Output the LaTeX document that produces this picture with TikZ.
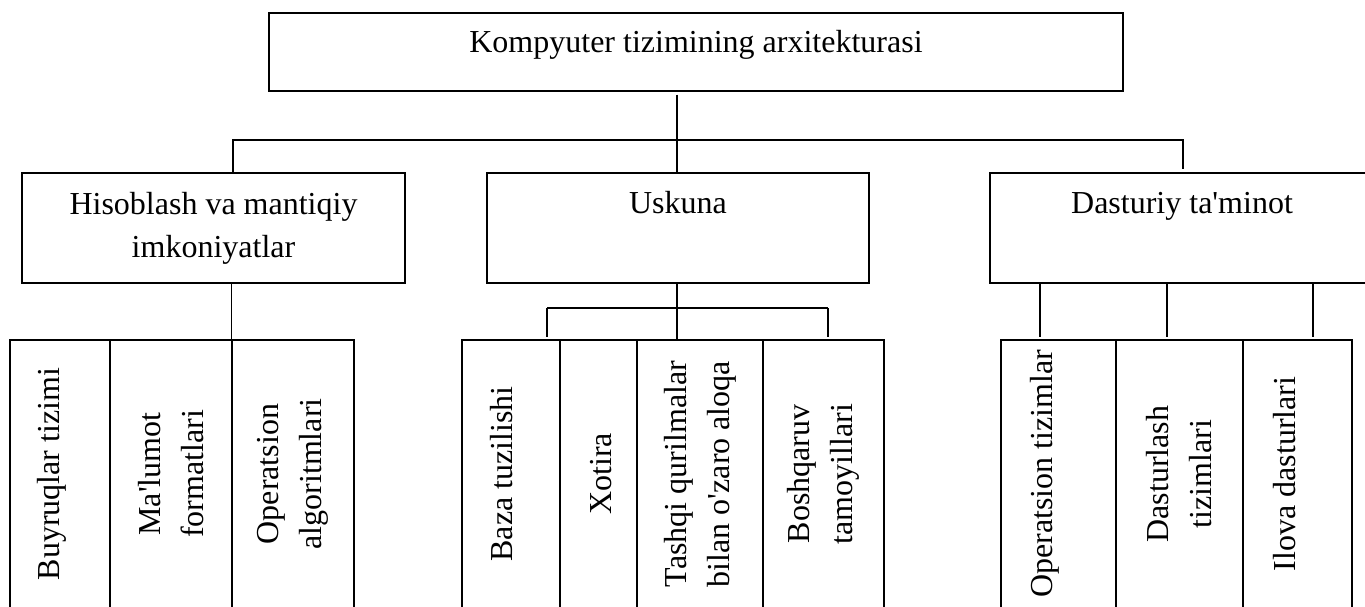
\documentclass[tikz,border=0pt]{standalone}
\usepackage{fontspec}
\setmainfont{Liberation Serif}
\newcommand{\myq}{\textquotesingle}
\begin{document}
\begin{tikzpicture}[x=1pt,y=-1pt,
  line width=1.4pt,
  font=\fontsize{32}{43}\selectfont,
  box/.style={draw, inner sep=0pt, line width=1.4pt},
  sub/.style={draw, inner sep=0pt, rotate=90, minimum width=268pt, line width=1.4pt},
  conn/.style={line width=1.4pt}]
\useasboundingbox (0,0) rectangle (1365,607);

% top level
\node[box, minimum width=854pt, text height=39.3pt, text depth=38.7pt] (top) at (696,52) {Kompyuter tizimining arxitekturasi};

% second level
\node[box, minimum width=383pt, minimum height=110pt, align=center] (calc) at (213.5,228) {Hisoblash va mantiqiy\\imkoniyatlar};
\node[box, minimum width=382pt, text height=40.3pt, text depth=69.7pt] (hw) at (678,228) {Uskuna};
\node[box, minimum width=384pt, text height=40.5pt, text depth=69.5pt] (soft) at (1182,228) {Dasturiy ta\myq minot};

% third level, group 1
\node[sub, minimum height=100pt, text height=49.5pt, text depth=50.5pt] (b1) at (60,474) {Buyruqlar tizimi};
\node[sub, minimum height=122pt, align=center] (b2) at (171,474) {Ma\myq lumot\\formatlari};
\node[sub, minimum height=122pt, align=center] (b3) at (293,474) {Operatsion\\algoritmlari};

% group 2
\node[sub, minimum height=98pt, text height=50.5pt, text depth=47.5pt] (h1) at (511,474) {Baza tuzilishi};
\node[sub, minimum height=77pt, text height=51.7pt, text depth=25.3pt] (h2) at (598.5,474) {Xotira};
\node[sub, minimum height=126pt, align=center] (h3) at (700,474) {Tashqi qurilmalar\\bilan o\myq zaro aloqa};
\node[sub, minimum height=121pt, align=center] (h4) at (823.5,474) {Boshqaruv\\tamoyillari};

% group 3
\node[sub, minimum height=115pt, text height=51pt, text depth=64pt] (s1) at (1058.5,474) {Operatsion tizimlar};
\node[sub, minimum height=127pt, align=center] (s2) at (1179.5,474) {Dasturlash\\tizimlari};
\node[sub, minimum height=109pt, text height=52pt, text depth=57pt] (s3) at (1297.5,474) {Ilova dasturlari};

% junction coordinates
\coordinate (jc) at (677,140);
\coordinate (busL) at (233,140);
\coordinate (busR) at (1183,140);
\coordinate (hb) at (677,308);
\coordinate (hbL) at (547,308);
\coordinate (hbR) at (828,308);
\coordinate (v1) at (1040,300);
\coordinate (v2) at (1167,300);
\coordinate (v3) at (1313,300);

% connectors level 1
\draw[conn] ([yshift=-3pt]top.south -| jc) -- (hw.north -| jc);
\draw[conn] (calc.north -| busL) -- (busL) -- (busR) -- ([yshift=3pt]soft.north -| busR);

% group 1
\draw[conn] (calc.south -| b3.north east) -- (b3.north east);

% group 2
\draw[conn] (hw.south -| hb) -- (hb);
\draw[conn] (hbL) -- (hbR);
\draw[conn] (hbL) -- ([yshift=2pt]h1.east -| hbL);
\draw[conn] (hb) -- (h3.east -| hb);
\draw[conn] (hbR) -- ([yshift=2pt]h4.east -| hbR);

% group 3
\draw[conn] (soft.south -| v1) -- ([yshift=2pt]s1.east -| v1);
\draw[conn] (soft.south -| v2) -- ([yshift=2pt]s2.east -| v2);
\draw[conn] (soft.south -| v3) -- ([yshift=2pt]s3.east -| v3);
\end{tikzpicture}
\end{document}
